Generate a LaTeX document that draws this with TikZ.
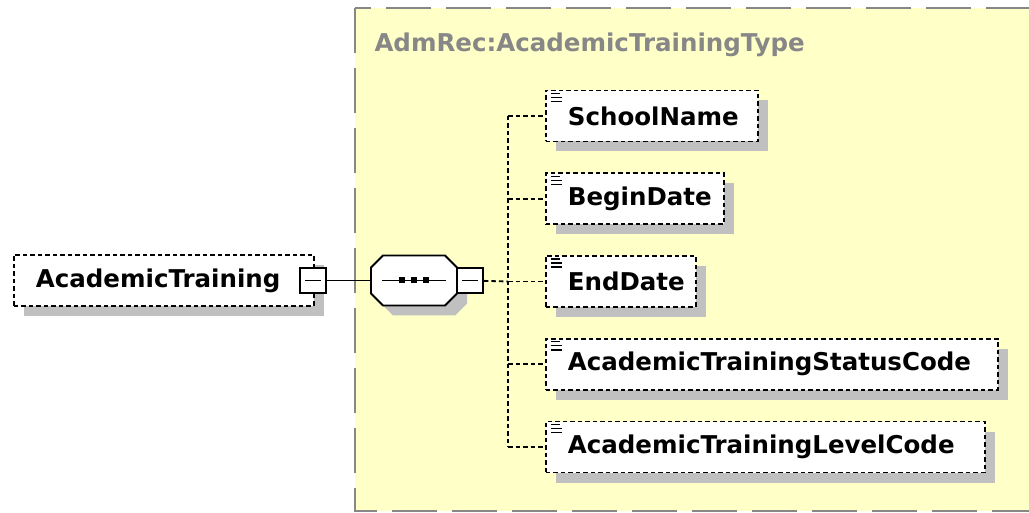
\documentclass[tikz,border=0pt]{standalone}
\usepackage{fontspec}
\setmainfont{DejaVu Sans}
\usetikzlibrary{shadows,calc}
\definecolor{typebg}{RGB}{255,255,200}
\definecolor{typeline}{RGB}{135,135,135}
\definecolor{shade}{RGB}{192,192,192}
\tikzset{
  elem/.style={draw=black,line width=1.8pt,dash pattern=on 4.5pt off 3pt,fill=white,
    inner xsep=22pt,inner ysep=0pt,minimum height=51,anchor=west,align=left,
    font=\fontsize{24.5}{28}\selectfont\bfseries,
    drop shadow={opacity=1,fill=shade,shadow xshift=10pt,shadow yshift=-10pt}},
  minusbox/.style={draw=black,line width=1.8pt,fill=white,minimum width=26,minimum height=25,inner sep=0pt},
  seqbox/.style={minimum width=86,minimum height=50,inner sep=0pt},
  octshade/.style={fill=shade},
  octline/.style={draw=black,line width=1.8pt,fill=white},
  conn/.style={draw=black,line width=1.8pt},
  dconn/.style={draw=black,line width=1.8pt,dash pattern=on 4.5pt off 3pt},
  typebox/.style={draw=typeline,line width=2.5pt,dash pattern=on 45pt off 15pt,fill=typebg}
}
\begin{document}
\begin{tikzpicture}[x=1pt,y=-1pt]
  \useasboundingbox (0,0) rectangle (1029,513);
  \fill[white] (0,0) rectangle (1029,513);
  \draw[typebox] (355,8) rectangle (1060,511);
  \node[anchor=base west,text=typeline,font=\fontsize{24.5}{28}\selectfont\bfseries] (typename) at (371,52) {AdmRec:AcademicTrainingType};
  \node[elem,text width=256] (acad) at (13,280.5) {AcademicTraining};
  \node[seqbox] (seq) at (414,280.5) {};
  \foreach \o/\sty in {10/octshade,0/octline}
    \path[\sty] ($(seq.center)+(\o-31,\o-25)$) -- ($(seq.center)+(\o+31,\o-25)$)
      -- ($(seq.center)+(\o+43,\o-13)$) -- ($(seq.center)+(\o+43,\o+13)$)
      -- ($(seq.center)+(\o+31,\o+25)$) -- ($(seq.center)+(\o-31,\o+25)$)
      -- ($(seq.center)+(\o-43,\o+13)$) -- ($(seq.center)+(\o-43,\o-13)$) -- cycle;
  \node[minusbox] (acadminus) at (313,280.5) {};
  \node[minusbox] (seqminus) at (470,280.5) {};
  \draw[line width=1.8pt] ($(acadminus.center)+(-8,0)$) -- ($(acadminus.center)+(8,0)$);
  \draw[line width=1.8pt] ($(seqminus.center)+(-8,0)$) -- ($(seqminus.center)+(8,0)$);
  \draw[line width=1.8pt] ($(seq.center)+(-32,0)$) -- ($(seq.center)+(32,0)$);
  \foreach \dx in {-12,0,12}
    \fill ($(seq.center)+(\dx,0)$) +(-3,-3) rectangle +(3,3);
  \node[elem,text width=168] (school) at (545,116) {SchoolName};
  \node[elem,text width=134] (begin) at (545,198.75) {BeginDate};
  \node[elem,text width=106] (end) at (545,281.5) {EndDate};
  \node[elem,text width=408] (status) at (545,364.25) {AcademicTrainingStatusCode};
  \node[elem,text width=395] (level) at (545,447) {AcademicTrainingLevelCode};
  \coordinate (trunk) at (508,281.5);
  \draw[conn] (acadminus) -- (seq.west);
  \draw[dconn] (seqminus) -- (trunk);
  \draw[dconn] (trunk |- school.west) -- (trunk |- level.west);
  \foreach \c in {school,begin,end,status,level}{
    \draw[dconn] (trunk |- \c.west) -- (\c.west);
    \foreach \dy/\len in {4/9,8/11,12/11}
      \draw[line width=1.3pt] ($(\c.north west)+(6,\dy)$) -- +(\len,0);
  }
\end{tikzpicture}
\end{document}
